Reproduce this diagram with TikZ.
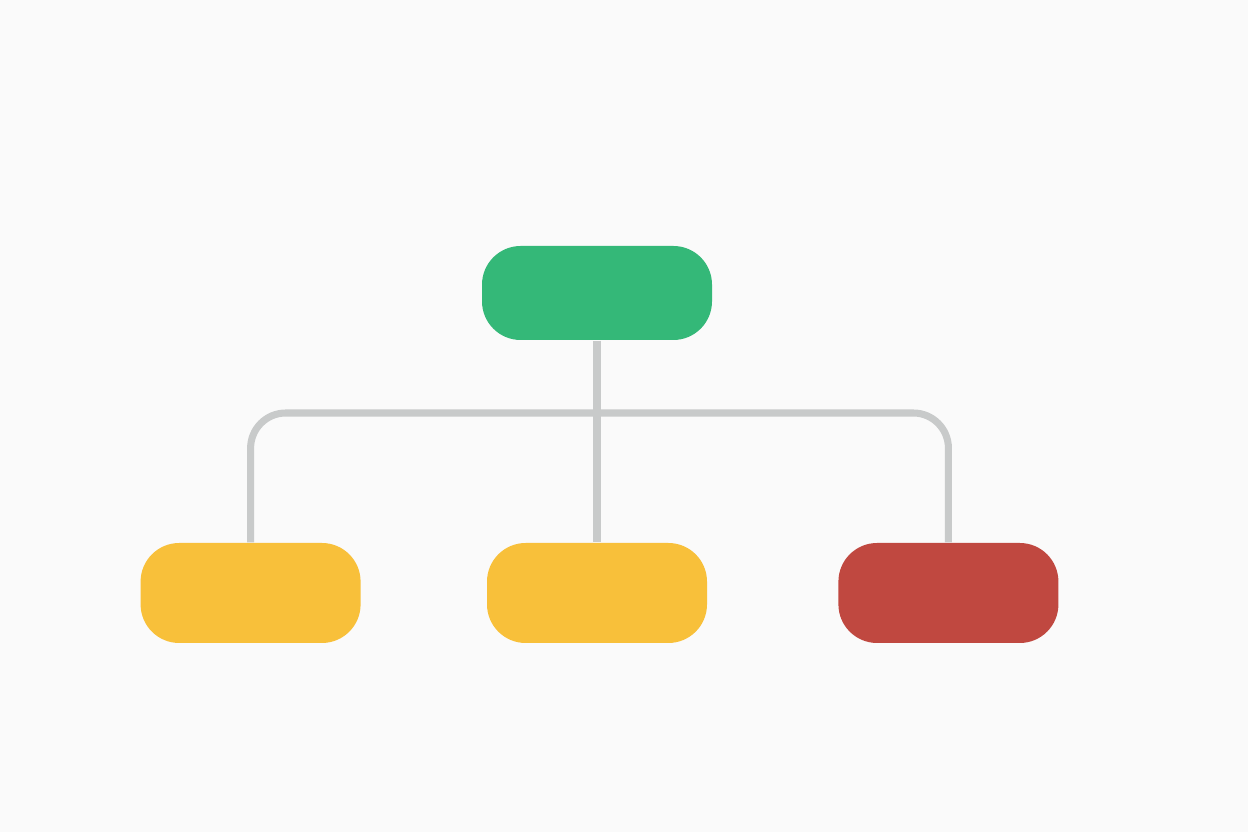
\documentclass[tikz,border=0pt]{standalone}
\usetikzlibrary{positioning}
\definecolor{rootgreen}{RGB}{52,184,120}
\definecolor{leafyellow}{RGB}{248,192,58}
\definecolor{leafred}{RGB}{192,72,64}
\definecolor{linkgray}{RGB}{200,202,202}
\definecolor{bggray}{RGB}{250,250,250}
\tikzset{
  pill/.style={rounded corners=11pt, minimum width=2.2cm, minimum height=1cm, inner sep=0pt},
  link/.style={draw=linkgray, line width=2pt, rounded corners=10pt}
}
\begin{document}
\begin{tikzpicture}
    \fill[bggray] (0,0) rectangle (12.48,8.32);
    \node[pill, fill=rootgreen, minimum width=2.3cm, minimum height=.94cm] (root) at (5.97,5.39) {};
    \node[pill, fill=leafyellow] (mid) at (5.97,2.39) {};
    \node[pill, fill=leafyellow, left=1.25cm of mid] (left) {};
    \node[pill, fill=leafred, right=1.3cm of mid] (right) {};
    \coordinate (split) at (5.97,4.19);
    \draw[link] (root.south) -- (mid.north);
    \draw[link] (split) -| (left.north);
    \draw[link] (split) -| (right.north);
  \end{tikzpicture}
\end{document}
